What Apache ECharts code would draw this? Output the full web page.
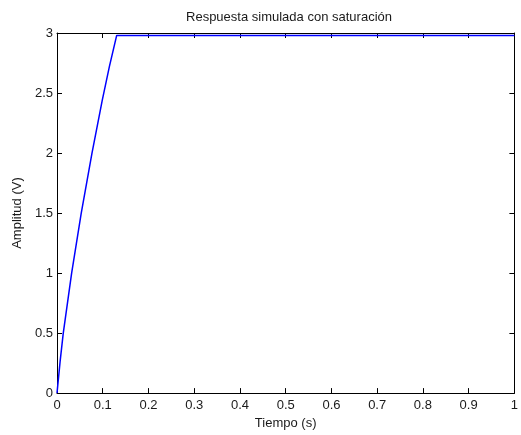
<!DOCTYPE html>
<html>
<head>
<meta charset="utf-8">
<script src="https://cdn.jsdelivr.net/npm/echarts@6/dist/echarts.min.js"></script>
<style>
  html, body { margin: 0; padding: 0; background: #fff; }
  #chart { width: 521px; height: 435px; }
</style>
</head>
<body>
<div id="chart"></div>
<script>
// Simulated response with actuator saturation
const tiempo = [0, 0.007, 0.0137, 0.032, 0.053, 0.0765, 0.099, 0.1145, 0.1305, 0.2, 0.3, 0.4, 0.5, 0.6, 0.7, 0.8, 0.9, 1.0];
const amplitud = [0, 0.27, 0.5, 1.0, 1.5, 2.0, 2.44, 2.72, 2.98, 2.98, 2.98, 2.98, 2.98, 2.98, 2.98, 2.98, 2.98, 2.98];
const xTicks = [0, 0.1, 0.2, 0.3, 0.4, 0.5, 0.6, 0.7, 0.8, 0.9, 1];
const yTicks = [0, 0.5, 1, 1.5, 2, 2.5, 3];

const FONT = 'Liberation Sans, Arial, sans-serif';
const TXT = '#1a1a1a';

const points = tiempo.map((t, i) => [t, amplitud[i]]);

const chart = echarts.init(document.getElementById('chart'), null, { renderer: 'canvas' });

// Box axes: ticks inward on all four sides
const baseAxis = {
  type: 'value',
  axisLine: { show: true, onZero: false, lineStyle: { color: '#000', width: 1 } },
  axisTick: { show: true, inside: true, length: 5, lineStyle: { color: '#000', width: 1 } },
  splitLine: { show: false }
};

chart.setOption({
  animation: false,
  backgroundColor: '#fff',
  title: {
    text: 'Respuesta simulada con saturación',
    left: 284,
    top: 6,
    textAlign: 'center',
    textStyle: { fontFamily: FONT, fontSize: 13, fontWeight: 'normal', color: TXT }
  },
  grid: { left: 57, right: 1, top: 33, bottom: 38, containLabel: false },
  xAxis: [
    Object.assign({}, baseAxis, {
      min: xTicks[0], max: xTicks[xTicks.length - 1], interval: 0.1,
      position: 'bottom',
      name: 'Tiempo (s)', nameLocation: 'middle', nameGap: 20,
      nameTextStyle: { fontFamily: FONT, fontSize: 13, color: TXT },
      axisLabel: { fontFamily: FONT, fontSize: 13, color: TXT, margin: 6 }
    }),
    Object.assign({}, baseAxis, {
      min: xTicks[0], max: xTicks[xTicks.length - 1], interval: 0.1,
      position: 'top',
      axisLabel: { show: false }
    })
  ],
  yAxis: [
    Object.assign({}, baseAxis, {
      min: yTicks[0], max: yTicks[yTicks.length - 1], interval: 0.5,
      position: 'left',
      name: 'Amplitud (V)', nameLocation: 'middle', nameGap: 31,
      nameTextStyle: { fontFamily: FONT, fontSize: 13, color: TXT },
      axisLabel: { fontFamily: FONT, fontSize: 13, color: TXT, margin: 4 }
    }),
    Object.assign({}, baseAxis, {
      min: yTicks[0], max: yTicks[yTicks.length - 1], interval: 0.5,
      position: 'right',
      axisLabel: { show: false }
    })
  ],
  series: [{
    type: 'line',
    data: points,
    xAxisIndex: 0,
    yAxisIndex: 0,
    showSymbol: false,
    smooth: false,
    lineStyle: { color: '#0000ff', width: 1.5 }
  }]
});
</script>
</body>
</html>
